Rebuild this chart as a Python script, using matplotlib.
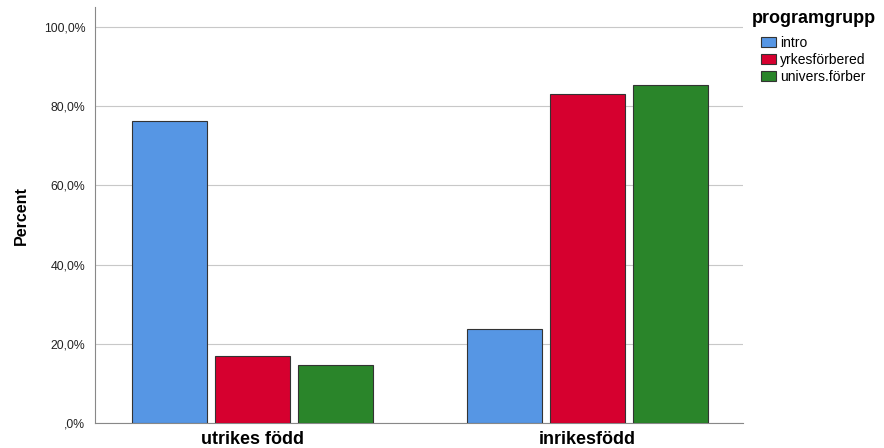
import matplotlib
matplotlib.use("Agg")
import matplotlib.pyplot as plt
import numpy as np

# data
groups = ["utrikes född", "inrikesfödd"]
series = ["intro", "yrkesförbered", "univers.förber"]
intro = [76.3, 23.7]
yrkes = [16.9, 83.1]
univ = [14.6, 85.4]
colors = ["#5696E4", "#D6002F", "#2A852A"]
yticks = [0, 20, 40, 60, 80, 100]
ytick_labels = [",0%", "20,0%", "40,0%", "60,0%", "80,0%", "100,0%"]

plt.rcParams["font.family"] = ["Liberation Sans", "DejaVu Sans"]

fig = plt.figure(figsize=(8.84, 4.48), dpi=100)
ax = fig.add_axes([0.1075, 0.0558, 0.733, 0.928])

x = np.arange(len(groups))
w = 0.224
step = 0.248
for i, (vals, name) in enumerate(zip([intro, yrkes, univ], series)):
    ax.bar(x + (i - 1) * step, vals, w, color=colors[i], edgecolor="#333333",
           linewidth=0.8, label=name, zorder=3)

ax.set_xlim(-0.470, 1.464)
ax.set_ylim(0, 105)
ax.set_yticks(yticks)
ax.set_yticklabels(ytick_labels, fontsize=8.8, color="#222222")
ax.set_xticks(x)
ax.set_xticklabels(groups, fontsize=13, fontweight="bold")
ax.tick_params(axis="y", length=0, pad=7)
ax.tick_params(axis="x", length=0, pad=6)
ax.grid(axis="y", color="#c8c8c8", linewidth=0.8, zorder=0)
for s in ["top", "right"]:
    ax.spines[s].set_visible(False)
ax.spines["left"].set_color("#888888")
ax.spines["bottom"].set_color("#888888")
ax.set_ylabel("Percent", fontsize=11.5, fontweight="bold", labelpad=11)

# legend title placed separately so entries can be indented
fig.text(0.851, 0.958, "programgrupp", fontsize=13, fontweight="bold",
         ha="left", va="center")
leg = fig.legend(loc="upper left", bbox_to_anchor=(0.861, 0.92), frameon=False,
                 fontsize=10, handlelength=1.1, handleheight=0.8,
                 handletextpad=0.25, labelspacing=0.22, borderaxespad=0,
                 borderpad=0)

fig.savefig("out.png", dpi=100)
